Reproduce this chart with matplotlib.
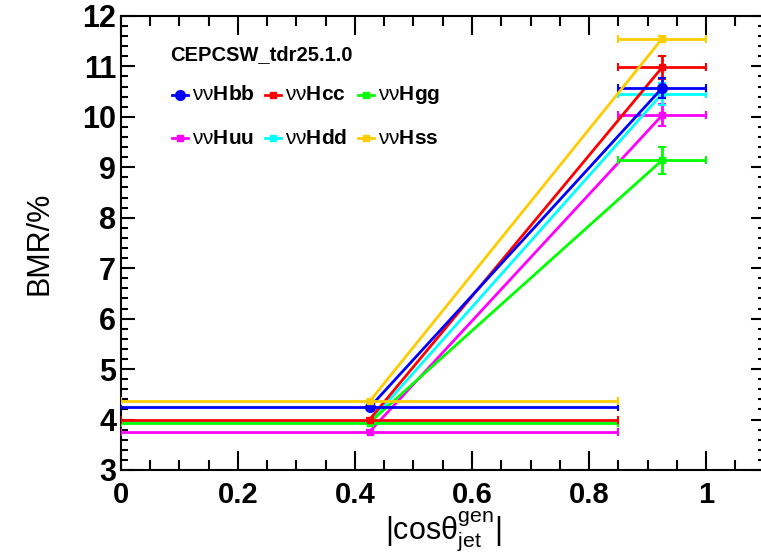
import numpy as np
import matplotlib
matplotlib.use("Agg")
import matplotlib.pyplot as plt
from matplotlib.ticker import MultipleLocator

plt.rcParams['font.family'] = ['Liberation Sans', 'DejaVu Sans']
plt.rcParams['mathtext.fontset'] = 'custom'
plt.rcParams['mathtext.rm'] = 'Liberation Sans'
plt.rcParams['mathtext.bf'] = 'Liberation Sans:bold'
plt.rcParams['mathtext.it'] = 'Liberation Sans:italic'

# bins in |cos theta|
bin_centers = [0.425, 0.925]
bin_halfwidth = [0.425, 0.075]

names = ['Hbb', 'Hcc', 'Hgg', 'Huu', 'Hdd', 'Hss']
colors = ['#0000ff', '#ff0000', '#00ff00', '#ff00ff', '#00ffff', '#ffcc00']
bmr = {
    'Hbb': [4.24, 10.57],
    'Hcc': [4.00, 10.98],
    'Hgg': [3.94, 9.14],
    'Huu': [3.76, 10.03],
    'Hdd': [3.95, 10.46],
    'Hss': [4.36, 11.55],
}
bmr_err = {
    'Hbb': [0.05, 0.20],
    'Hcc': [0.03, 0.22],
    'Hgg': [0.03, 0.27],
    'Huu': [0.03, 0.22],
    'Hdd': [0.03, 0.22],
    'Hss': [0.03, 0.05],
}
zorders = {'Hbb': 5, 'Hcc': 4, 'Hgg': 3.5, 'Huu': 3, 'Hdd': 3.2, 'Hss': 6}

fig = plt.figure(figsize=(7.61, 5.52), dpi=100)
ax = fig.add_axes([0.159, 0.1486, 0.8456, 0.8225])

for name, c in zip(names, colors):
    ms = 7 if name == 'Hbb' else 5
    mk = 'o' if name == 'Hbb' else 's'
    ax.errorbar(bin_centers, bmr[name], xerr=bin_halfwidth, yerr=bmr_err[name],
                color=c, marker=mk, ms=ms, lw=2, elinewidth=2, capsize=3,
                capthick=1.5, zorder=zorders[name])

ax.set_xlim(0, 1.1)
ax.set_ylim(3, 12)
ax.xaxis.set_major_locator(MultipleLocator(0.2))
ax.xaxis.set_minor_locator(MultipleLocator(0.05))
ax.yaxis.set_major_locator(MultipleLocator(1))
ax.yaxis.set_minor_locator(MultipleLocator(0.2))
ax.set_xticks([0, 0.2, 0.4, 0.6, 0.8, 1.0])
ax.set_xticklabels(['0', '0.2', '0.4', '0.6', '0.8', '1'])
ax.tick_params(which='both', direction='in', top=True, right=True, width=1.5)
ax.tick_params(which='major', length=14)
ax.tick_params(which='minor', length=7)
ax.tick_params(axis='y', which='major', length=10)
ax.tick_params(axis='y', which='minor', length=5)
ax.tick_params(axis='x', pad=8)
for lab in ax.get_xticklabels():
    lab.set_fontsize(21)
    lab.set_fontweight('bold')
for lab in ax.get_yticklabels():
    lab.set_fontsize(22)
    lab.set_fontweight('bold')
for s in ax.spines.values():
    s.set_linewidth(1.5)

ax.set_ylabel('BMR/%', fontsize=22, labelpad=20)
ax.set_xlabel(r'|cos$\mathrm{θ}^{\mathrm{gen}}_{\mathrm{jet}}$|', fontsize=22, labelpad=0)

# legend block (pixel positions from the top-left corner)
fig_w, fig_h = 761, 552
fig.text(170 / fig_w, (fig_h - 55) / fig_h, 'CEPCSW_tdr25.1.0', fontsize=14.5,
         fontweight='bold', va='center', ha='left')
legend_pos = [(180, 95), (273, 95), (366, 95), (180, 138), (273, 138), (366, 138)]
for (px, py), name, c in zip(legend_pos, names, colors):
    y = fig_h - py
    ms = 7 if name == 'Hbb' else 4
    mk = 'o' if name == 'Hbb' else 's'
    fig.lines.append(plt.Line2D([px - 8, px + 8], [y, y], transform=None,
                                color=c, lw=2))
    fig.lines.append(plt.Line2D([px], [y], transform=None, color=c,
                                marker=mk, ms=ms, lw=0))
    fig.text((px + 12) / fig_w, y / fig_h, r'$\mathrm{νν}\mathbf{' + name + '}$',
             fontsize=15, va='center', ha='left')

fig.savefig('out.png', dpi=100)
